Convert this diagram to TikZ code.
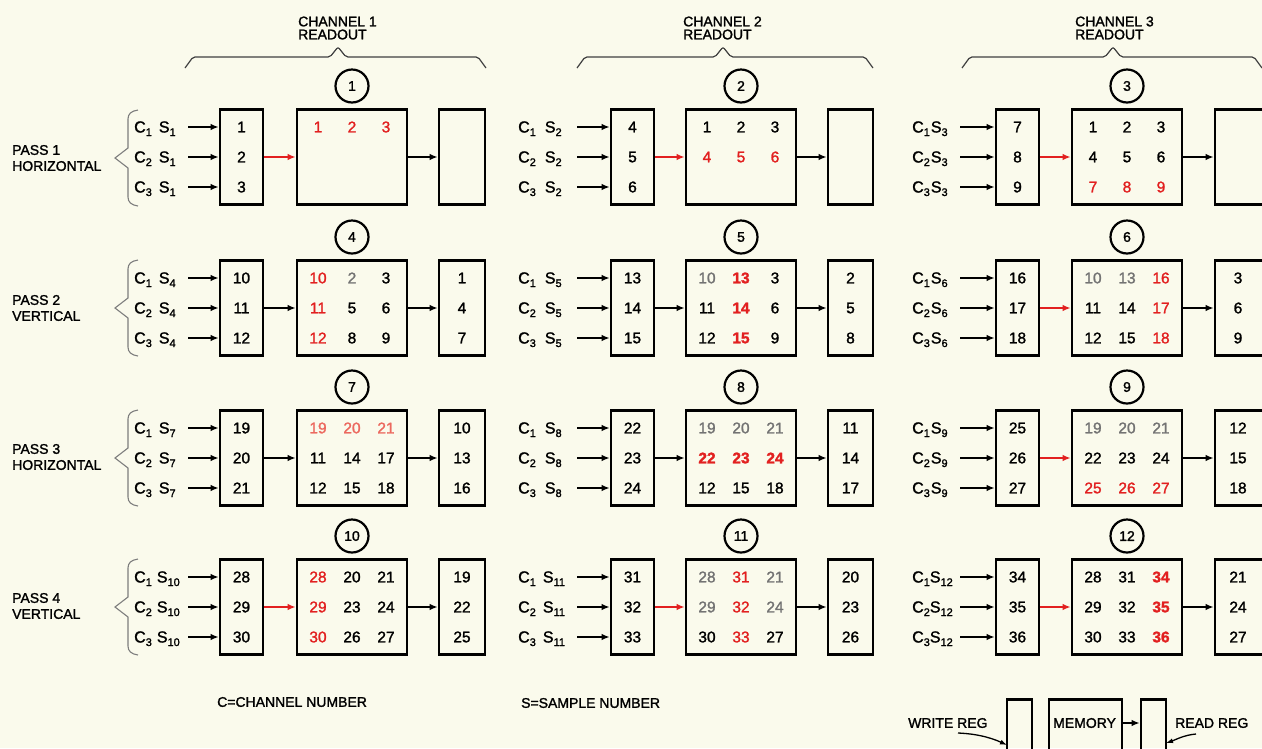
\documentclass[tikz,border=0pt]{standalone}
\usepackage{fontspec}
\setmainfont{Liberation Sans}
\usetikzlibrary{arrows.meta}
\definecolor{bgc}{RGB}{250,250,236}
\definecolor{nred}{RGB}{226,32,32}
\definecolor{lred}{RGB}{236,105,95}
\definecolor{ngray}{RGB}{115,115,115}
\definecolor{brc}{RGB}{125,125,125}
\newcommand\Rd[1]{\textcolor{nred}{#1}}
\newcommand\Rb[1]{\textcolor{nred}{\bfseries #1}}
\newcommand\Gy[1]{\textcolor{ngray}{#1}}
\newcommand\Lr[1]{\textcolor{lred}{#1}}
\newcommand\Sb[1]{\raisebox{-3.5pt}{\fontsize{11}{11}\selectfont #1}}
\newcommand\Col[6]{%
  \node[num] (#1a) at ({#2},{#3-30}) {#4};
  \node[num] (#1b) at ({#2},{#3}) {#5};
  \node[num] (#1c) at ({#2},{#3+30}) {#6};}
\newcommand\Row[6]{%
  \node[num] (#1a) at ({#2-34},{#3}) {#4};
  \node[num] (#1b) at ({#2},{#3}) {#5};
  \node[num] (#1c) at ({#2+34},{#3}) {#6};}
% id, inx, memx, outx, outw, yc, circle
\newcommand\Frame[7]{%
  \node[circ] (c#1) at ({#3},{#6-71}) {#7};
  \node[reg,minimum width=43] (in#1) at ({#2},{#6}) {};
  \node[reg,minimum width=110] (mem#1) at ({#3},{#6}) {};
  \node[reg,minimum width=#5] (out#1) at ({#4},{#6}) {};}
% id, labx, arrx, yc, sample, gap
\newcommand\Inputs[6]{%
  \foreach \k/\dy in {1/-30,2/0,3/30}{
    \node[clab,anchor=base west] (l#1-\k) at ({#2},{#4+(\dy)+5.5}) {C\Sb{\k}\hspace{#6}S\Sb{#5}};
    \coordinate (a#1-\k) at ({#3},{#4+(\dy)});
    \draw[arr] (a#1-\k) -- (a#1-\k -| in#1.west);
  }}
\newcommand\LBrace[2]{%
  \draw[lbrace] (138,{#2-48}) .. controls (131,{#2-47}) and (128,{#2-44}) .. (128,{#2-39})
    -- (128,{#2-10}) -- (115,{#2}) -- (128,{#2+10}) -- (128,{#2+39})
    .. controls (128,{#2+44}) and (131,{#2+47}) .. (138,{#2+48});}
\newcommand\TBrace[3]{%
  \draw[tbrace] ({#1},68) -- ({#1+8},57) -- ({#2-8},57) -- ({#2},47) -- ({#2+8},57) -- ({#3-8},57) -- ({#3},68);}
\tikzset{
  reg/.style={draw, line width=2.6pt, minimum height=95, inner sep=0pt},
  num/.style={font=\fontsize{15.5}{16}\selectfont\addfontfeatures{FakeBold=1.5}, inner sep=0pt},
  lab/.style={font=\fontsize{14}{14}\selectfont\addfontfeatures{FakeBold=1.5}, inner sep=0pt},
  clab/.style={font=\fontsize{16}{16}\selectfont\addfontfeatures{FakeBold=1.5}, inner sep=0pt},
  circ/.style={draw, circle, line width=2.2pt, minimum size=33, inner sep=0pt, font=\fontsize{14}{14}\selectfont\addfontfeatures{FakeBold=1.5}},
  arr/.style={line width=2.1pt, -{Latex[length=8pt,width=6.5pt]}},
  thinarr/.style={line width=1.3pt, -{Latex[length=7pt,width=5pt]}},
  lbrace/.style={draw=brc, line width=1.1pt},
  tbrace/.style={draw=black!75, line width=1.2pt, rounded corners=2pt},
}
\begin{document}
\begin{tikzpicture}[x=1pt,y=-1pt]
\useasboundingbox (0,0) rectangle (1262,748);
\clip (0,0) rectangle (1262,748);
\fill[bgc] (0,0) rectangle (1262,748);

% top labels and braces
\node[lab,align=left,anchor=west] (t1) at (298,28) {CHANNEL 1\\[-1pt]READOUT};
\node[lab,align=left,anchor=west] (t2) at (683,28) {CHANNEL 2\\[-1pt]READOUT};
\node[lab,align=left,anchor=west] (t3) at (1075,28) {CHANNEL 3\\[-1pt]READOUT};
\TBrace{185}{338}{486}
\TBrace{577}{723}{873}
\TBrace{962}{1113}{1262}

% row labels
\node[lab,align=left,anchor=west] (p1) at (12,158) {PASS 1\\[2pt]HORIZONTAL};
\node[lab,align=left,anchor=west] (p2) at (12,308) {PASS 2\\[2pt]VERTICAL};
\node[lab,align=left,anchor=west] (p3) at (12,457) {PASS 3\\[2pt]HORIZONTAL};
\node[lab,align=left,anchor=west] (p4) at (12,606) {PASS 4\\[2pt]VERTICAL};
\LBrace{1}{158}
\LBrace{2}{308}
\LBrace{3}{458}
\LBrace{4}{607}

% frames
\Frame{1}{241.5}{352}{462}{46}{157}{1}
\Frame{2}{632.5}{741}{850.5}{45}{157}{2}
\Frame{3}{1017.5}{1127}{1242}{54}{157}{3}
\Frame{4}{241.5}{352}{462}{46}{308}{4}
\Frame{5}{632.5}{741}{850.5}{45}{308}{5}
\Frame{6}{1017.5}{1127}{1242}{54}{308}{6}
\Frame{7}{241.5}{352}{462}{46}{458}{7}
\Frame{8}{632.5}{741}{850.5}{45}{458}{8}
\Frame{9}{1017.5}{1127}{1242}{54}{458}{9}
\Frame{10}{241.5}{352}{462}{46}{607}{10}
\Frame{11}{632.5}{741}{850.5}{45}{607}{11}
\Frame{12}{1017.5}{1127}{1242}{54}{607}{12}

% inputs
\Inputs{1}{134}{188}{157}{1}{7pt}
\Inputs{2}{518}{577}{157}{2}{9pt}
\Inputs{3}{912}{960}{157}{3}{1pt}
\Inputs{4}{134}{188}{308}{4}{7pt}
\Inputs{5}{518}{577}{308}{5}{9pt}
\Inputs{6}{912}{960}{308}{6}{1pt}
\Inputs{7}{134}{188}{458}{7}{7pt}
\Inputs{8}{518}{577}{458}{8}{9pt}
\Inputs{9}{912}{960}{458}{9}{1pt}
\Inputs{10}{134}{188}{607}{10}{5pt}
\Inputs{11}{518}{577}{607}{11}{7pt}
\Inputs{12}{912}{960}{607}{12}{0pt}

% transfer arrows
\foreach \i in {1,2,3,6,9,10,11,12}{\draw[arr,nred] (in\i) -- (mem\i);}
\foreach \i in {4,5,7,8}{\draw[arr] (in\i) -- (mem\i);}
\foreach \i in {1,...,12}{\draw[arr] (mem\i) -- (out\i);}

% register contents: row 1
\Col{i1}{241.5}{157}{1}{2}{3}
\Row{m1a}{352}{127}{\Rd{1}}{\Rd{2}}{\Rd{3}}
\Col{i2}{632.5}{157}{4}{5}{6}
\Row{m2a}{741}{127}{1}{2}{3}
\Row{m2b}{741}{157}{\Rd{4}}{\Rd{5}}{\Rd{6}}
\Col{i3}{1017.5}{157}{7}{8}{9}
\Row{m3a}{1127}{127}{1}{2}{3}
\Row{m3b}{1127}{157}{4}{5}{6}
\Row{m3c}{1127}{187}{\Rd{7}}{\Rd{8}}{\Rd{9}}
% row 2
\Col{i4}{241.5}{308}{10}{11}{12}
\Row{m4a}{352}{278}{\Rd{10}}{\Gy{2}}{3}
\Row{m4b}{352}{308}{\Rd{11}}{5}{6}
\Row{m4c}{352}{338}{\Rd{12}}{8}{9}
\Col{o4}{462}{308}{1}{4}{7}
\Col{i5}{632.5}{308}{13}{14}{15}
\Row{m5a}{741}{278}{\Gy{10}}{\Rb{13}}{3}
\Row{m5b}{741}{308}{11}{\Rb{14}}{6}
\Row{m5c}{741}{338}{12}{\Rb{15}}{9}
\Col{o5}{850.5}{308}{2}{5}{8}
\Col{i6}{1017.5}{308}{16}{17}{18}
\Row{m6a}{1127}{278}{\Gy{10}}{\Gy{13}}{\Rd{16}}
\Row{m6b}{1127}{308}{11}{14}{\Rd{17}}
\Row{m6c}{1127}{338}{12}{15}{\Rd{18}}
\Col{o6}{1238}{308}{3}{6}{9}
% row 3
\Col{i7}{241.5}{458}{19}{20}{21}
\Row{m7a}{352}{428}{\Lr{19}}{\Lr{20}}{\Lr{21}}
\Row{m7b}{352}{458}{11}{14}{17}
\Row{m7c}{352}{488}{12}{15}{18}
\Col{o7}{462}{458}{10}{13}{16}
\Col{i8}{632.5}{458}{22}{23}{24}
\Row{m8a}{741}{428}{\Gy{19}}{\Gy{20}}{\Gy{21}}
\Row{m8b}{741}{458}{\Rb{22}}{\Rb{23}}{\Rb{24}}
\Row{m8c}{741}{488}{12}{15}{18}
\Col{o8}{850.5}{458}{11}{14}{17}
\Col{i9}{1017.5}{458}{25}{26}{27}
\Row{m9a}{1127}{428}{\Gy{19}}{\Gy{20}}{\Gy{21}}
\Row{m9b}{1127}{458}{22}{23}{24}
\Row{m9c}{1127}{488}{\Rd{25}}{\Rd{26}}{\Rd{27}}
\Col{o9}{1238}{458}{12}{15}{18}
% row 4
\Col{i10}{241.5}{607}{28}{29}{30}
\Row{m10a}{352}{577}{\Rd{28}}{20}{21}
\Row{m10b}{352}{607}{\Rd{29}}{23}{24}
\Row{m10c}{352}{637}{\Rd{30}}{26}{27}
\Col{o10}{462}{607}{19}{22}{25}
\Col{i11}{632.5}{607}{31}{32}{33}
\Row{m11a}{741}{577}{\Gy{28}}{\Rd{31}}{\Gy{21}}
\Row{m11b}{741}{607}{\Gy{29}}{\Rd{32}}{\Gy{24}}
\Row{m11c}{741}{637}{30}{\Rd{33}}{27}
\Col{o11}{850.5}{607}{20}{23}{26}
\Col{i12}{1017.5}{607}{34}{35}{36}
\Row{m12a}{1127}{577}{28}{31}{\Rb{34}}
\Row{m12b}{1127}{607}{29}{32}{\Rb{35}}
\Row{m12c}{1127}{637}{30}{33}{\Rb{36}}
\Col{o12}{1238}{607}{21}{24}{27}

% legend
\node[lab,anchor=west] (cn) at (217,702) {C=CHANNEL NUMBER};
\node[lab,anchor=west] (sn) at (521,703) {S=SAMPLE NUMBER};
\node[reg,minimum width=25,minimum height=80,anchor=north] (wbox) at (1019.5,698) {};
\node[reg,minimum width=73,minimum height=80,anchor=north] (mbox) at (1085.5,698) {};
\node[reg,minimum width=25,minimum height=80,anchor=north] (rbox) at (1153.5,698) {};
\node[lab,anchor=west] (memtxt) at (1053,723) {MEMORY};
\node[lab,anchor=west] (wreg) at (908,723) {WRITE REG};
\node[lab,anchor=west] (rreg) at (1175,723) {READ REG};
\draw[arr] (mbox.east |- memtxt) -- (rbox.west |- memtxt);
\coordinate (ws) at (958,733);
\coordinate (we) at (1007,745);
\draw[thinarr] (ws) .. controls (982,734) and (996,740) .. (we);
\coordinate (rs) at (1196,734);
\coordinate (re) at (1166,743);
\draw[thinarr] (rs) .. controls (1184,735) and (1175,740) .. (re);
\end{tikzpicture}
\end{document}
